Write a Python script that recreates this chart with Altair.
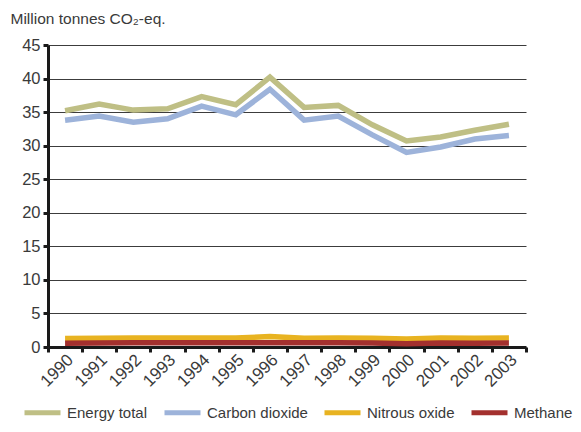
import altair as alt
import pandas as pd

years = [str(y) for y in range(1990, 2004)]
energy_total = [35.2, 36.2, 35.3, 35.5, 37.3, 36.1, 40.2, 35.7, 36.0, 33.1, 30.7, 31.3, 32.3, 33.2]
carbon_dioxide = [33.8, 34.4, 33.5, 34.0, 35.9, 34.6, 38.4, 33.8, 34.4, 31.6, 29.0, 29.8, 31.0, 31.5]
nitrous_oxide = [1.25, 1.3, 1.35, 1.35, 1.35, 1.35, 1.55, 1.3, 1.35, 1.3, 1.2, 1.35, 1.3, 1.35]
methane = [0.55, 0.6, 0.65, 0.65, 0.65, 0.65, 0.65, 0.65, 0.65, 0.6, 0.5, 0.6, 0.55, 0.6]

series_names = ["Energy total", "Carbon dioxide", "Nitrous oxide", "Methane"]
series_colors = ["#BFBF85", "#9DB3DA", "#E8B321", "#A3302E"]

rows = []
for k, (name, vals) in enumerate(zip(series_names, [energy_total, carbon_dioxide, nitrous_oxide, methane])):
    for y, v in zip(years, vals):
        rows.append({"Year": y, "Value": v, "Series": name, "order": k})
df = pd.DataFrame(rows)

FONT = "Liberation Sans"
TXT = "#3a3a3a"

chart = alt.Chart(df).mark_line(strokeWidth=5.5, strokeJoin="miter").encode(
    x=alt.X("Year:O", bandPosition=0.5,
            scale=alt.Scale(type="band", paddingInner=0, paddingOuter=0),
            axis=alt.Axis(title=None, labelAngle=-45, labelAlign="right", labelBaseline="middle",
                          labelFontSize=17, labelColor=TXT, labelFont=FONT, labelPadding=5,
                          tickBand="extent", domainWidth=3, domainColor="#1a1a1a",
                          tickWidth=3, tickColor="#1a1a1a", tickSize=5, labelOffset=5)),
    y=alt.Y("Value:Q", scale=alt.Scale(domain=[0, 45], nice=False),
            axis=alt.Axis(values=list(range(0, 50, 5)), title="Million tonnes CO₂-eq.",
                          titleAngle=0, titleX=-38, titleY=-22, titleAlign="left",
                          titleBaseline="alphabetic", titleFontSize=15.5, titleFontWeight="normal",
                          titleFont=FONT, titleColor=TXT,
                          labelFontSize=16.5, labelColor=TXT, labelFont=FONT, labelPadding=3,
                          domainWidth=3, domainColor="#1a1a1a", tickWidth=3, tickColor="#1a1a1a",
                          tickSize=5, grid=True, gridColor="#3c3c3c", gridWidth=1)),
    color=alt.Color("Series:N", scale=alt.Scale(domain=series_names, range=series_colors),
                    legend=alt.Legend(title=None, orient="none", direction="horizontal",
                                      legendX=-26, legendY=347,
                                      symbolType="stroke", symbolStrokeWidth=5, symbolSize=1296,
                                      labelFontSize=15, labelFont=FONT, labelColor=TXT,
                                      columnPadding=6, labelOffset=4)),
    order=alt.Order("order:Q"),
).properties(
    width=478, height=302,
    autosize=alt.AutoSizeParams(type="none"),
    padding={"left": 40, "top": 37, "right": 47, "bottom": 77},
).configure_view(stroke=None)

chart.save("out.html", embed_options={"renderer": "svg", "actions": False})
